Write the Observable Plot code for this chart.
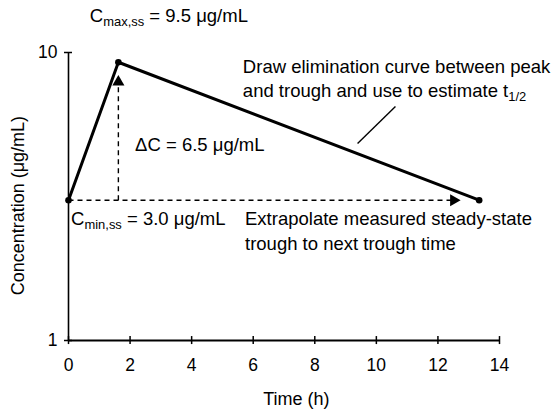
<!DOCTYPE html>
<html><head><meta charset="utf-8">
<script src="https://cdn.jsdelivr.net/npm/d3@7"></script>
<script src="https://cdn.jsdelivr.net/npm/@observablehq/plot@0.6"></script>
<style>
body{margin:0;background:#fff}
svg{font-family:"Liberation Sans",Arial,sans-serif}
</style>
</head><body><div id="chart"></div>
<script>
// Data
const times = [0, 1.62, 13.34];          // h
const conc = [3.07, 9.25, 3.07];         // µg/mL (plotted positions)
const xTicks = [0, 2, 4, 6, 8, 10, 12, 14];
const yTicks = [1, 10];
const xLabel = "Time (h)";
const yLabel = "Concentration (μg/mL)";
const cmaxText = " = 9.5 μg/mL";
const cminText = " = 3.0 μg/mL";
const deltaText = "ΔC = 6.5 μg/mL";
const elimText = ["Draw elimination curve between peak", "and trough and use to estimate t"];
const extrapText = ["Extrapolate measured steady-state", "trough to next trough time"];

const pts = times.map((t, i) => ({t, c: conc[i]}));
const peak = pts[1], start = pts[0], end = pts[2];

const vArrowTip = 8.19;   // concentration where vertical arrow head tip sits
const hArrowTip = 12.64;  // time where horizontal arrow head tip sits

const plot = Plot.plot({
  width: 556, height: 415,
  marginLeft: 68, marginRight: 57, marginTop: 52, marginBottom: 75,
  style: {fontFamily: "Liberation Sans, Arial, sans-serif", fontSize: "17.5px", color: "#000", background: "#fff", overflow: "visible"},
  x: {domain: [0, 14], ticks: xTicks, tickSize: 0, tickPadding: 18, label: null},
  y: {type: "log", domain: [1, 10], ticks: yTicks, tickFormat: d => String(d), tickSize: 0, tickPadding: 11, label: null},
  marks: [
    // axis lines
    Plot.ruleY([1], {x1: 0, x2: 14, stroke: "#000", strokeWidth: 2}),
    Plot.ruleX([0], {y1: 1, y2: 10, stroke: "#000", strokeWidth: 1.6}),
    // crossing tick marks
    Plot.ruleX(xTicks, {x: d => d, y1: 0.968, y2: 1.032, stroke: "#000", strokeWidth: 1.5}),
    Plot.ruleY(yTicks, {y: d => d, x1: -0.13, x2: 0.13, stroke: "#000", strokeWidth: 1.5}),
    // dashed vertical arrow (ΔC)
    Plot.link([0], {x1: peak.t, x2: peak.t, y1: start.c, y2: vArrowTip * 0.95, stroke: "#000", strokeWidth: 1.4, strokeDasharray: "5,4"}),
    Plot.dot([0], {x: peak.t, y: vArrowTip * 0.965, symbol: "triangle", r: 4.5, fill: "#000", stroke: null}),
    // dashed horizontal arrow (extrapolated trough)
    Plot.link([0], {x1: start.t, x2: hArrowTip - 0.2, y1: start.c, y2: start.c, stroke: "#000", strokeWidth: 1.4, strokeDasharray: "5,4"}),
    Plot.dot([0], {x: hArrowTip - 0.13, y: start.c, symbol: "triangle", rotate: 90, r: 4.5, fill: "#000", stroke: null}),
    // leader line
    Plot.link([0], {x1: 10.62, y1: 6.49, x2: 9.39, y2: 4.83, stroke: "#000", strokeWidth: 1.4}),
    // concentration curve
    Plot.line(pts, {x: "t", y: "c", stroke: "#000", strokeWidth: 3}),
    Plot.dot(pts, {x: "t", y: "c", r: 3.3, fill: "#000", stroke: null}),
    // axis titles
    Plot.text([xLabel], {x: 7.4, frameAnchor: "bottom", dy: 64, fontSize: 18, fill: "#000"}),
    Plot.text([yLabel], {y: 2.94, frameAnchor: "left", dx: -50, rotate: -90, textAnchor: "middle", fontSize: 18, fill: "#000"})
  ]
});

document.getElementById("chart").appendChild(plot);

const sx = plot.scale("x"), sy = plot.scale("y");
const svg = d3.select(plot);
svg.selectAll("g[aria-label='x-axis tick label'] text, g[aria-label='y-axis tick label'] text").attr("fill", "#000");

function rich(t, c, parts, size = 18.5) {
  const txt = svg.append("text")
    .attr("x", sx.apply(t)).attr("y", sy.apply(c))
    .attr("text-anchor", "start")
    .attr("font-size", size).attr("fill", "#000")
    .attr("font-family", "Liberation Sans, Arial, sans-serif");
  let shifted = false;
  for (const [s, sub] of parts) {
    const ts = txt.append("tspan").text(s);
    if (sub && !shifted) { ts.attr("font-size", size * 0.7).attr("dy", "0.3em"); shifted = true; }
    else if (!sub && shifted) { ts.attr("dy", "-0.21em"); shifted = false; }
  }
}

rich(0.71, 12.71, [["C"], ["max,ss", true], [cmaxText]]);
rich(5.68, 8.45, [[elimText[0]]]);
rich(5.68, 6.98, [[elimText[1]], ["1/2", true]]);
rich(2.18, 4.53, [[deltaText]]);
rich(0.10, 2.50, [["C"], ["min,ss", true], [cminText]]);
rich(5.75, 2.50, [[extrapText[0]]]);
rich(5.75, 2.06, [[extrapText[1]]]);
</script>
</body></html>
